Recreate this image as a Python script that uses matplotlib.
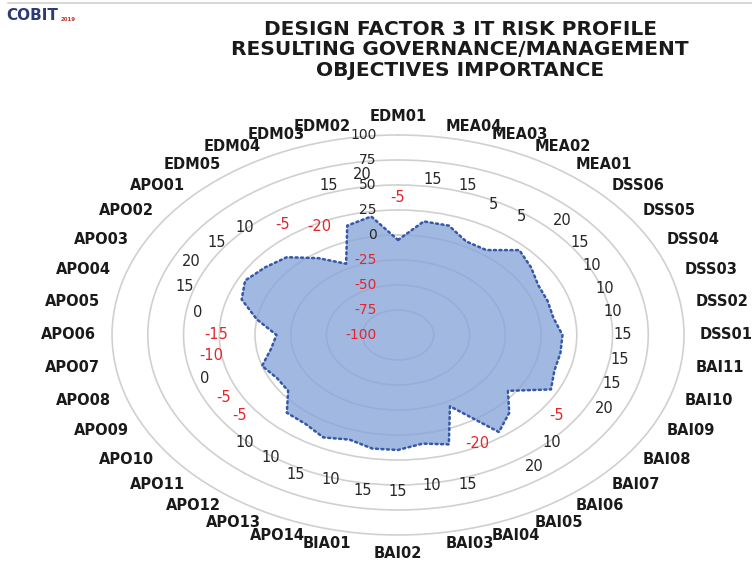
import numpy as np
import matplotlib
matplotlib.use("Agg")
import matplotlib.pyplot as plt
from matplotlib.lines import Line2D

# ---- data ----
categories = ["EDM01", "EDM02", "EDM03", "EDM04", "EDM05",
              "APO01", "APO02", "APO03", "APO04", "APO05", "APO06", "APO07",
              "APO08", "APO09", "APO10", "APO11", "APO12", "APO13", "APO14",
              "BIA01", "BAI02", "BAI03", "BAI04", "BAI05", "BAI06", "BAI07",
              "BAI08", "BAI09", "BAI10", "BAI11",
              "DSS01", "DSS02", "DSS03", "DSS04", "DSS05", "DSS06",
              "MEA01", "MEA02", "MEA03", "MEA04"]
values = [-5, 20, 15, -20, -5,
          10, 15, 20, 15, 0, -15, -10,
          0, -5, -5, 10, 10, 15, 10,
          15, 15, 10, 15, -20, 20, 10,
          -5, 20, 15, 15,
          15, 10, 10, 10, 15, 20,
          5, 5, 15, 15]
r_ticks = [100, 75, 50, 25, 0, -25, -50, -75, -100]
title_lines = ["DESIGN FACTOR 3 IT RISK PROFILE",
               "RESULTING GOVERNANCE/MANAGEMENT",
               "OBJECTIVES IMPORTANCE"]

RED = "#e4262c"
DARK = "#262626"

fig = plt.figure(figsize=(7.52, 5.66), dpi=100)
fig.patch.set_facecolor("white")

ax = fig.add_axes([0.149, 0.0548, 0.7606, 0.7067], projection="polar")
ax.set_aspect("auto")
ax.set_theta_zero_location("N")
ax.set_theta_direction(1)
ax.set_ylim(-100, 100)

n = len(categories)
theta = np.arange(n) * 2 * np.pi / n
theta_c = np.append(theta, theta[0])
vals_c = np.append(values, values[0])

ax.set_axisbelow(True)
ax.set_rticks([t for t in r_ticks if t > -100])
ax.set_yticklabels([])
ax.set_xticks(theta)
ax.set_xticklabels([])
ax.xaxis.grid(False)
ax.yaxis.grid(True, color="#d0d0d0", lw=1.2)
for gl in ax.yaxis.get_gridlines():
    gl.set_clip_on(False)
ax.spines["polar"].set_visible(False)
ax.tick_params(length=0)

ax.fill(theta_c, vals_c, color="#8aa6da", alpha=0.8, zorder=2, lw=0)
ax.plot(theta_c, vals_c, color="#3558a8", lw=1.8, linestyle=(0, (0.8, 1.4)),
        zorder=3, dash_capstyle="round")

# radial tick labels
for t in r_ticks:
    ax.annotate(str(t), xy=(0, t), xytext=(-15.5, 0), textcoords="offset points",
                ha="right", va="center", fontsize=10,
                color=RED if t < 0 else DARK, zorder=5)

# data labels
for th, v in zip(theta, values):
    ax.text(th, v + 42, str(v), ha="center", va="center", fontsize=10.5,
            color=RED if v < 0 else DARK, zorder=5)

# category labels
for i, (th, lab) in enumerate(zip(theta, categories)):
    phi = (-i * 360.0 / n) % 360  # clockwise screen angle from top
    s = np.sin(np.radians(phi))
    if abs(s) < 1e-6:
        ha = "center"
        va = "bottom" if phi < 90 or phi > 270 else "top"
    else:
        ha = "left" if s > 0 else "right"
        va = "center"
    ax.text(th, 111, lab, ha=ha, va=va, fontsize=10.5, fontweight="bold",
            color="#1a1a1a", zorder=5)

# title
fig.text(0.612, 0.9117, "\n".join(title_lines), ha="center", va="center",
         fontsize=14.5, fontweight="bold", color="#1a1a1a", linespacing=1.1)

# logo and top rule
fig.add_artist(Line2D([0.01, 1.0], [0.994, 0.994], color="#d0d0d0", lw=1.2))
fig.text(0.008, 0.972, "COBIT", ha="left", va="center", fontsize=11,
         fontweight="bold", color="#2e3b72")
fig.text(0.080, 0.965, "2019", ha="left", va="center", fontsize=4,
         fontweight="bold", color="#c0392b")

fig.savefig("out.png", dpi=100, facecolor="white")
